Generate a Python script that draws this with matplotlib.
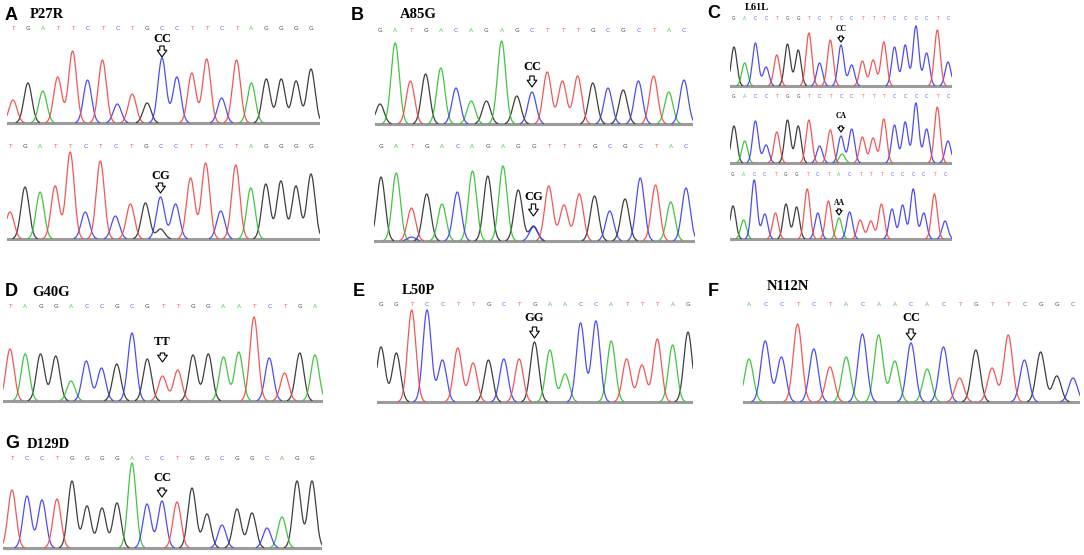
import numpy as np
import matplotlib
matplotlib.use("Agg")
import matplotlib.pyplot as plt

W, H = 1084, 555

# ---------------- data ----------------
seq_A1 = "TGATTCTCTGCCTTCTAGGGG"
h_A1 = [23, 40, 32, 46, 72, 43, 63, 19, 29, 20, 65, 46, 50, 64, 25, 63, 40, 44, 44, 42, 54]
seq_A2 = "TGATTCTCTGCCTTCTAGGGG"
h_A2 = [27, 52, 47, 53, 87, 27, 78, 23, 35, 36, 42, 35, 61, 76, 28, 74, 51, 55, 58, 53, 65]
extra_A2 = [(10, "G", 10)]

seq_B1 = "GATGACAGAGCTTTGCGCTAC"
h_B1 = [20, 81, 43, 50, 56, 36, 23, 23, 83, 28, 32, 52, 43, 48, 41, 36, 34, 43, 48, 32, 44]
seq_B2 = "GATGACAGAGGTTTGCGCTAC"
h_B2 = [64, 68, 33, 47, 37, 49, 70, 65, 75, 51, 15, 55, 36, 47, 45, 30, 42, 63, 56, 39, 53]
extra_B2 = [(10, "C", 14), (2, "C", 4)]

seq_C1 = "GACCTGGTCTCCTTTCCCCTC"
h_C1 = [39, 23, 43, 19, 31, 42, 36, 53, 23, 46, 41, 21, 25, 26, 44, 39, 41, 60, 33, 56, 24]
seq_C2 = "GACCTGGTCTCCTTTCCCCTC"
h_C2 = [37, 22, 42, 18, 31, 43, 37, 43, 17, 33, 27, 34, 26, 25, 44, 38, 41, 60, 34, 56, 22]
extra_C2 = [(10.1, "A", 9)]
seq_C3 = "GACCTGGTCTACTTTCCCCTC"
h_C3 = [33, 19, 59, 25, 26, 35, 32, 50, 26, 38, 21, 27, 19, 18, 35, 30, 34, 50, 26, 45, 18]

seq_D = "TAGGACCGCGTTGGAATCTGA"
h_D = [52, 47, 47, 45, 20, 40, 33, 37, 68, 42, 25, 31, 46, 47, 44, 49, 84, 43, 28, 48, 46]
seq_E = "GGTCCTTGCTGAACCATTTAG"
h_E = [55, 49, 92, 92, 42, 54, 39, 42, 43, 43, 60, 52, 28, 79, 81, 61, 43, 37, 63, 57, 70]
seq_F = "ACCTCTACAACACTGTTCGGC"
h_F = [43, 61, 45, 78, 53, 35, 45, 68, 67, 41, 59, 33, 55, 24, 52, 34, 67, 42, 50, 26, 24]
seq_G = "TCCTGGGGACCTGGCGGCAGG"
h_G = [58, 52, 48, 49, 67, 42, 40, 45, 85, 44, 47, 46, 60, 34, 23, 39, 35, 20, 31, 67, 67]

panel_letters = ["A", "B", "C", "D", "E", "F", "G"]
panel_titles = ["P27R", "A85G", "L61L", "G40G", "L50P", "N112N", "D129D"]

# ---------------- styles / layout ----------------
BASE_COLORS = {"A": "#2fbf2f", "C": "#3a3af2", "G": "#2a2a2a", "T": "#ef4646"}
SIGMA = 0.27

# geometry: x_first, x_last, base_y, letters_y, ext_left, ext_right,
#           label_y, arrow_top, arrow_bottom, label_size, arrow_scale, letter_size
traces = [
    (seq_A1, h_A1, [], 10, "CC", (13, 311, 123, 28, 7, 320, 39, 46, 57, 9, 7, 4.3)),
    (seq_A2, h_A2, extra_A2, 10, "CG", (10, 311, 239, 147, 7, 320, 176, 183, 193, 9, 7, 4.3)),
    (seq_B1, h_B1, [], 10, "CC", (380, 684, 124, 30, 375, 693, 67, 76, 87, 9, 7, 4.3)),
    (seq_B2, h_B2, extra_B2, 10, "CG", (381, 686, 241, 147, 374, 695, 197, 204, 216, 9, 7, 4.3)),
    (seq_C1, h_C1, [], 10, "CC", (734, 948, 86, 19, 730, 952, 29, 36, 42, 5.5, 4.5, 3.3)),
    (seq_C2, h_C2, extra_C2, 10, "CA", (734, 948, 163, 96, 730, 952, 116, 126, 132, 5.5, 4.5, 3.3)),
    (seq_C3, h_C3, [], 10, "AA", (733, 945, 239, 175, 730, 952, 203, 209, 215, 5.5, 4.5, 3.3)),
    (seq_D, h_D, [], 10, "TT", (10, 315, 401, 307, 3, 323, 342, 353, 362, 9, 7, 4.3)),
    (seq_E, h_E, [], 10, "GG", (381, 688, 402, 304, 377, 693, 318, 327, 338, 9, 7, 4.3)),
    (seq_F, h_F, [], 10, "CC", (749, 1073, 402, 304, 743, 1080, 318, 329, 340, 9, 7, 4.3)),
    (seq_G, h_G, [], 10, "CC", (12, 312, 548, 458, 3, 322, 478, 488, 497, 9, 7, 4.3)),
]

# panel letter pos (x,y), title pos (x,y), title size
panel_pos = [((5, 15), (30, 15), 10.5), ((351, 15), (400, 15), 10.5), ((707, 14), (745, 8), 7.5),
             ((5, 292), (32, 292), 10.5), ((353, 291), (402, 290), 10.5),
             ((708, 291), (767, 287), 10.5), ((5, 443), (27, 445), 10.5)]

fig = plt.figure(figsize=(W / 100, H / 100), dpi=100)
fig.patch.set_facecolor("white")


def draw_trace(seq, heights, extras, mark_idx, mark_label, geom):
    (x_first, x_last, base_y, let_y, ext_l, ext_r, lab_y, arr_top, arr_bot,
     lab_size, arr_scale, let_size) = geom
    step = (x_last - x_first) / (len(seq) - 1)
    top_px = let_y - 6
    ax = fig.add_axes([ext_l / W, 1 - (base_y + 3) / H, (ext_r - ext_l) / W,
                       (base_y + 3 - top_px) / H])
    x0, x1 = (ext_l - x_first) / step, (ext_r - x_first) / step
    ax.set_xlim(x0, x1)
    ax.set_ylim(-3, base_y - top_px)
    ax.axis("off")
    x = np.linspace(x0, x1, 3000)
    chans = {b: np.zeros_like(x) for b in "ACGT"}
    for i, (b, h) in enumerate(zip(seq, heights)):
        chans[b] += h * np.exp(-(x - i) ** 2 / (2 * SIGMA ** 2))
    for i, b, h in extras:
        chans[b] += h * np.exp(-(x - i) ** 2 / (2 * SIGMA ** 2))
    ax.axhline(0, color="#9c9c9c", lw=2.2, zorder=1)
    for b in "GACT":
        y = chans[b].copy()
        y[y < 0.6] = np.nan
        ax.plot(x, y, color=BASE_COLORS[b], lw=0.9, zorder=2, alpha=0.9)
    for i, b in enumerate(seq):
        ax.text(i, base_y - let_y, b, ha="center", va="center", fontsize=let_size,
                color=BASE_COLORS[b], family="DejaVu Sans", alpha=0.85, clip_on=False)
    ax.text(mark_idx, base_y - lab_y, mark_label, ha="center", va="center",
            fontsize=lab_size, fontweight="bold", family="Liberation Serif", color="black",
            clip_on=False)
    ax.annotate("", xy=(mark_idx, base_y - arr_bot), xytext=(mark_idx, base_y - arr_top),
                arrowprops=dict(arrowstyle="simple,head_length=0.7,head_width=1.0,tail_width=0.45",
                                fc="white", ec="black", lw=0.8, shrinkA=0, shrinkB=0,
                                mutation_scale=arr_scale),
                annotation_clip=False)


for seq, h, ex, mi, ml, geom in traces:
    draw_trace(seq, h, ex, mi, ml, geom)

for letter, title, (lp, tp, tsize) in zip(panel_letters, panel_titles, panel_pos):
    fig.text(lp[0] / W, 1 - lp[1] / H, letter, ha="left", va="center", fontsize=13,
             fontweight="bold", family="Liberation Sans")
    fig.text(tp[0] / W, 1 - tp[1] / H, title, ha="left", va="center", fontsize=tsize,
             fontweight="bold", family="Liberation Serif")

fig.savefig("out.png", dpi=100, facecolor="white")
